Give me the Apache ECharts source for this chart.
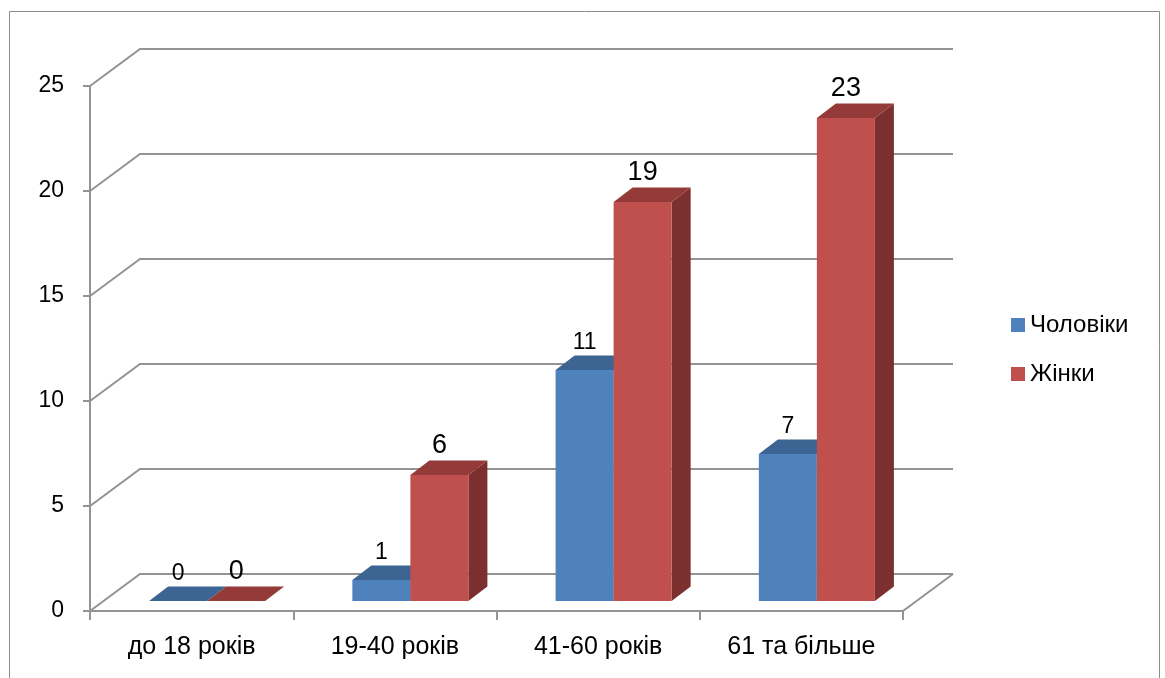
<!DOCTYPE html>
<html><head><meta charset="utf-8">
<script src="https://cdn.jsdelivr.net/npm/echarts@6/dist/echarts.min.js"></script>
<style>html,body{margin:0;padding:0;background:#fff}#c{width:1165px;height:678px}</style>
</head><body><div id="c"></div>
<script>
const categories = ['до 18 років', '19-40 років', '41-60 років', '61 та більше'];
const men = [0, 1, 11, 7];
const women = [0, 6, 19, 23];
const seriesNames = ['Чоловіки', 'Жінки'];
const yTicks = [0, 5, 10, 15, 20, 25];

const FONT = '"Liberation Sans", Arial, sans-serif';
const GRID_COLOR = '#939393';
const BACK_DX = 50, BACK_DY = -37;       // back wall offset
const SHIFT_X = 15.5, SHIFT_Y = -10;     // bar front plane offset
const DEPTH_X = 19, DEPTH_Y = -14.5;     // bar depth

function wallRender(params, api) {
  const cs = params.coordSys;
  const v = api.value(1);
  const y = api.coord([0, v])[1];
  const x0 = cs.x, W = cs.width;
  const children = [{
    type: 'polyline',
    shape: { points: [[x0, y], [x0 + BACK_DX, y + BACK_DY], [x0 + W + BACK_DX, y + BACK_DY]] },
    style: { stroke: GRID_COLOR, lineWidth: 2, fill: null }
  }];
  if (v === 0) {
    children.push({
      type: 'line',
      shape: { x1: x0 + W, y1: y, x2: x0 + W + BACK_DX, y2: y + BACK_DY },
      style: { stroke: GRID_COLOR, lineWidth: 2 }
    });
  }
  return { type: 'group', children };
}

function barRender(side, front, topC, sideC, fontSize, labelDy) {
  return function (params, api) {
    const i = api.value(0), v = api.value(1);
    const base = api.coord([i, 0]);
    const top = api.coord([i, v]);
    const bw = api.size([1, 0])[0] * 0.2855;
    const x0 = side === 0 ? base[0] + SHIFT_X - bw : base[0] + SHIFT_X;
    const x1 = x0 + bw;
    const yb = base[1] + SHIFT_Y, yt = top[1] + SHIFT_Y;
    const children = [];
    if (yb - yt > 0.1) {
      children.push({ type: 'polygon', shape: { points: [[x1, yt], [x1 + DEPTH_X, yt + DEPTH_Y], [x1 + DEPTH_X, yb + DEPTH_Y], [x1, yb]] }, style: { fill: sideC } });
      children.push({ type: 'polygon', shape: { points: [[x0, yt], [x1, yt], [x1, yb], [x0, yb]] }, style: { fill: front } });
    }
    children.push({ type: 'polygon', shape: { points: [[x0, yt], [x0 + DEPTH_X, yt + DEPTH_Y], [x1 + DEPTH_X, yt + DEPTH_Y], [x1, yt]] }, style: { fill: topC } });
    children.push({
      type: 'text',
      style: { text: String(v), x: (x0 + x1) / 2, y: yt + labelDy, align: 'center', verticalAlign: 'middle', fontSize: fontSize, fontFamily: FONT, fill: '#000' }
    });
    return { type: 'group', children };
  };
}

const chart = echarts.init(document.getElementById('c'), null, { renderer: 'canvas' });
chart.setOption({
  animation: false,
  backgroundColor: '#fff',
  graphic: [{
    type: 'rect', silent: true,
    shape: { x: 9.5, y: 11.5, width: 1150, height: 700 },
    style: { fill: null, stroke: '#8C8C8C', lineWidth: 1 }
  }],
  grid: { left: 90, top: 86, width: 813, height: 525 },
  legend: {
    data: [{ name: seriesNames[0], icon: 'rect' }, { name: seriesNames[1], icon: 'rect' }],
    orient: 'vertical', left: 1011, top: 313, padding: 0,
    itemWidth: 14, itemHeight: 14, itemGap: 25,
    textStyle: { fontSize: 24, fontFamily: FONT, color: '#000' },
    selectedMode: false
  },
  xAxis: {
    type: 'category', data: categories,
    axisLine: { lineStyle: { color: GRID_COLOR, width: 2 } },
    axisTick: { show: true, length: 9, lineStyle: { color: GRID_COLOR, width: 2 } },
    axisLabel: { fontSize: 25, fontFamily: FONT, color: '#000', margin: 24 },
    splitLine: { show: false }
  },
  yAxis: {
    type: 'value', min: 0, max: 25, interval: 5,
    axisLine: { show: true, lineStyle: { color: GRID_COLOR, width: 2 } },
    axisTick: { show: true, length: 7, lineStyle: { color: GRID_COLOR, width: 2 } },
    axisLabel: { fontSize: 23, fontFamily: FONT, color: '#000', margin: 26 },
    splitLine: { show: false }
  },
  series: [
    {
      type: 'custom', name: 'wall', silent: true, z: 1,
      renderItem: wallRender,
      encode: { x: 0, y: 1 },
      data: yTicks.map(v => [0, v])
    },
    {
      type: 'custom', name: seriesNames[0], z: 2,
      itemStyle: { color: '#4F81BD' },
      renderItem: barRender(0, '#4F81BD', '#3D6594', '#34567F', 23, -27),
      encode: { x: 0, y: 1 },
      data: men.map((v, i) => [i, v])
    },
    {
      type: 'custom', name: seriesNames[1], z: 3,
      itemStyle: { color: '#C0504D' },
      renderItem: barRender(1, '#C0504D', '#943B39', '#7B2F2E', 27, -29.5),
      encode: { x: 0, y: 1 },
      data: women.map((v, i) => [i, v])
    }
  ]
});
</script>
</body></html>
